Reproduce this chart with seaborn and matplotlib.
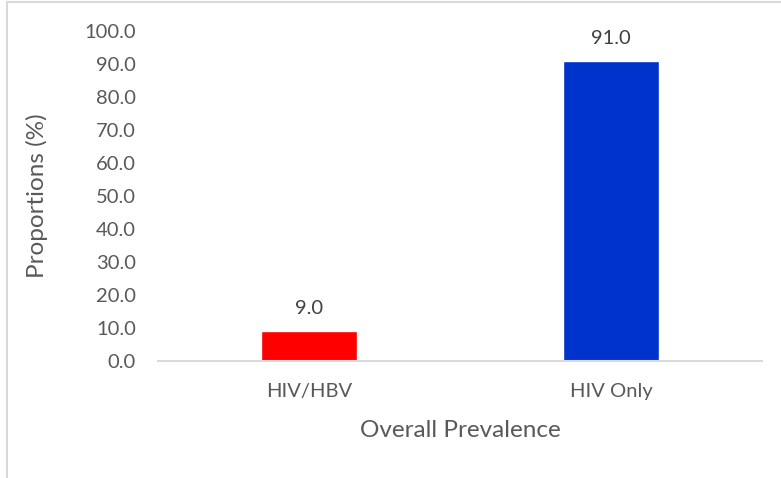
import pandas as pd
import matplotlib
matplotlib.use("Agg")
import matplotlib.pyplot as plt
import seaborn as sns
from matplotlib.lines import Line2D

categories = ["HIV/HBV", "HIV Only"]
proportions = [9.0, 91.0]
bar_colors = ["#FF0000", "#0033CC"]
y_ticks = [0, 10, 20, 30, 40, 50, 60, 70, 80, 90, 100]

def plot_prevalence():
    df = pd.DataFrame({"group": categories, "value": proportions})

    sns.set_style("white")
    plt.rcParams["font.family"] = ["Lato", "DejaVu Sans"]

    W, H = 781, 478
    fig = plt.figure(figsize=(W / 100, H / 100), dpi=100)
    ax = fig.add_axes([158 / W, (H - 361) / H, (762 - 158) / W, 330 / H])

    sns.barplot(data=df, x="group", y="value", hue="group",
                palette=bar_colors, width=0.315, saturation=1,
                legend=False, ax=ax)

    text_color = "#595959"
    for p, v in zip(ax.patches, proportions):
        ax.text(p.get_x() + p.get_width() / 2, v + 4.2, f"{v:.1f}",
                ha="center", va="bottom", fontsize=14.5, color="#404040")

    ax.set_ylim(0, 100)
    ax.set_yticks(y_ticks)
    ax.set_yticklabels([f"{t:.1f}" for t in y_ticks])
    ax.tick_params(axis="both", length=0, labelsize=14.5, colors=text_color)
    ax.tick_params(axis="x", pad=16)
    ax.tick_params(axis="y", pad=16)

    ax.set_xlabel("Overall Prevalence", fontsize=17.5, color=text_color, labelpad=14)
    ax.set_ylabel("Proportions (%)", fontsize=17.5, color=text_color, labelpad=26)

    for s in ["top", "right", "left"]:
        ax.spines[s].set_visible(False)
    ax.spines["bottom"].set_color("#D9D9D9")
    ax.spines["bottom"].set_linewidth(1.5)

    # chart frame, only left and top edges visible
    fig.add_artist(Line2D([7 / W, 7 / W], [0, 1 - 2 / H], color="#D9D9D9", lw=1.5))
    fig.add_artist(Line2D([7 / W, 1], [1 - 2 / H, 1 - 2 / H], color="#D9D9D9", lw=1.5))

    fig.savefig("out.png", dpi=100)

if __name__ == "__main__":
    plot_prevalence()
